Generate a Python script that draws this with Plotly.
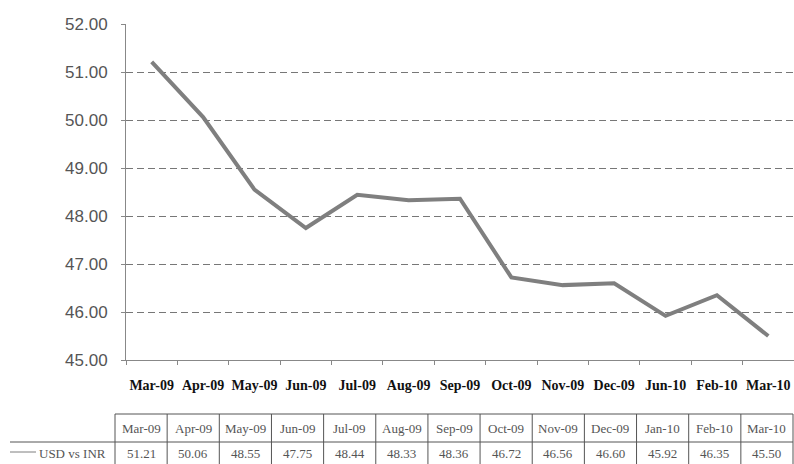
import plotly.graph_objects as go

# ---- data ----
months = ["Mar-09", "Apr-09", "May-09", "Jun-09", "Jul-09", "Aug-09", "Sep-09",
          "Oct-09", "Nov-09", "Dec-09", "Jan-10", "Feb-10", "Mar-10"]
axis_labels = ["Mar-09", "Apr-09", "May-09", "Jun-09", "Jul-09", "Aug-09", "Sep-09",
               "Oct-09", "Nov-09", "Dec-09", "Jun-10", "Feb-10", "Mar-10"]
usd_inr = [51.21, 50.06, 48.55, 47.75, 48.44, 48.33, 48.36,
           46.72, 46.56, 46.60, 45.92, 46.35, 45.50]
series_name = "USD vs INR"
y_ticks = [45, 46, 47, 48, 49, 50, 51, 52]

# ---- layout geometry (pixels) ----
W, H = 794, 464
ML, MR, MT, MB = 126, 0, 24, 104
PW, PH = W - ML - MR, H - MT - MB


def px(x):
    return (x - ML) / PW


def py(y):
    return (MT + PH - y) / PH


fig = go.Figure()
fig.add_trace(go.Scatter(
    x=months, y=usd_inr, mode="lines", name=series_name,
    line=dict(color="#7f7f7f", width=4), showlegend=False,
))

# ---- data table under the chart ----
tab_left, tab_right = 115, 793
col_w = (tab_right - tab_left) / len(months)
tab_top, tab_mid, tab_bot = 414, 442, 470
line_col = "#555555"
shapes = []
for k in range(len(months) + 1):
    xk = tab_left + k * col_w
    shapes.append(dict(type="line", xref="paper", yref="paper",
                       x0=px(xk), x1=px(xk), y0=py(tab_top), y1=py(tab_bot),
                       line=dict(color=line_col, width=1)))
shapes.append(dict(type="line", xref="paper", yref="paper",
                   x0=px(tab_left), x1=px(tab_right), y0=py(tab_top), y1=py(tab_top),
                   line=dict(color=line_col, width=1)))
shapes.append(dict(type="line", xref="paper", yref="paper",
                   x0=px(10), x1=px(tab_right), y0=py(tab_mid), y1=py(tab_mid),
                   line=dict(color=line_col, width=1)))
# legend key line
shapes.append(dict(type="line", xref="paper", yref="paper",
                   x0=px(10), x1=px(36), y0=py(452), y1=py(452),
                   line=dict(color="#7f7f7f", width=1)))

annotations = []
tfont = dict(family="Liberation Serif, Times New Roman, serif", size=13, color="#555555")
for i, (m, v) in enumerate(zip(months, usd_inr)):
    cx = tab_left + (i + 0.5) * col_w
    annotations.append(dict(xref="paper", yref="paper", x=px(cx), y=py(428),
                            text=m, showarrow=False, font=tfont,
                            xanchor="center", yanchor="middle"))
    annotations.append(dict(xref="paper", yref="paper", x=px(cx), y=py(453),
                            text=f"{v:.2f}", showarrow=False, font=tfont,
                            xanchor="center", yanchor="middle"))
annotations.append(dict(xref="paper", yref="paper", x=px(37), y=py(453),
                        text=series_name, showarrow=False, font=tfont,
                        xanchor="left", yanchor="middle"))

fig.update_layout(
    width=W, height=H,
    margin=dict(l=ML, r=MR, t=MT, b=MB, pad=0),
    paper_bgcolor="white", plot_bgcolor="white",
    shapes=shapes, annotations=annotations,
    xaxis=dict(
        type="category", categoryorder="array", categoryarray=months,
        range=[-0.5, len(months) - 0.5],
        tickmode="array", tickvals=months, ticktext=axis_labels,
        tickson="boundaries", ticks="outside", ticklen=4, tickcolor="#888888",
        tickangle=0,
        showline=True, linecolor="#888888", linewidth=1,
        showgrid=False, zeroline=False,
        tickfont=dict(family="Liberation Serif, Times New Roman, serif",
                      size=14, color="#111111", weight="bold"),
        ticklabelstandoff=12,
    ),
    yaxis=dict(
        range=[45, 52], tickmode="array", tickvals=y_ticks,
        ticktext=[f"{t:.2f}" for t in y_ticks],
        ticks="outside", ticklen=4, tickcolor="#888888",
        showline=True, linecolor="#888888", linewidth=1,
        showgrid=True, gridcolor="#777777", gridwidth=1, griddash="7px,4px",
        zeroline=False,
        tickfont=dict(family="Liberation Sans, Arial, sans-serif", size=17, color="#555555"),
        ticklabelstandoff=10,
    ),
)

fig.write_html("out.html")
